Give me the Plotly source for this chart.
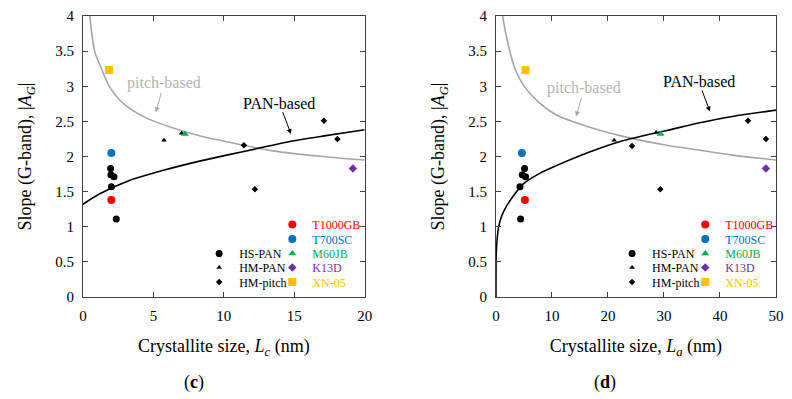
import plotly.graph_objects as go

# ---------------- data ----------------
# Panel (c): crystallite size Lc (nm)
lc_hs_pan_x = [1.96, 1.98, 2.20, 2.01, 2.36]
lc_hs_pan_y = [1.83, 1.74, 1.71, 1.57, 1.11]
lc_hm_pan_x = [5.75, 7.00]
lc_hm_pan_y = [2.23, 2.33]
lc_hm_pitch_x = [11.42, 12.20, 17.10, 18.06]
lc_hm_pitch_y = [2.16, 1.535, 2.51, 2.25]
lc_t1000gb = ([2.01], [1.38])
lc_t700sc = ([2.01], [2.05])
lc_m60jb = ([7.23], [2.32])
lc_k13d = ([19.16], [1.83])
lc_xn05 = ([1.85], [3.23])
lc_pitch_fit_x = [0.42, 0.49, 0.84, 1.31, 1.89, 2.83, 4.47, 6.34, 8.21, 10.2, 13.5, 17.0, 20.0]
lc_pitch_fit_y = [4.15, 3.98, 3.49, 3.25, 2.99, 2.76, 2.55, 2.41, 2.30, 2.21, 2.08, 2.00, 1.95]
lc_pan_fit_x = [0.0, 1.19, 3.3, 5.64, 7.98, 10.2, 12.3, 14.6, 17.0, 20.0]
lc_pan_fit_y = [1.32, 1.47, 1.66, 1.80, 1.92, 2.02, 2.11, 2.21, 2.29, 2.38]

# Panel (d): crystallite size La (nm)
la_hs_pan_x = [5.11, 4.70, 5.29, 4.29, 4.41]
la_hs_pan_y = [1.83, 1.74, 1.71, 1.57, 1.11]
la_hm_pan_x = [21.1, 28.6]
la_hm_pan_y = [2.23, 2.34]
la_hm_pitch_x = [24.3, 29.35, 45.0, 48.2]
la_hm_pitch_y = [2.15, 1.535, 2.51, 2.25]
la_t1000gb = ([5.17], [1.38])
la_t700sc = ([4.64], [2.05])
la_m60jb = ([29.4], [2.32])
la_k13d = ([48.2], [1.83])
la_xn05 = ([5.29], [3.23])
la_pitch_fit_x = [1.0, 1.23, 2.23, 3.4, 4.88, 7.82, 10.8, 16.6, 22.5, 30.5, 36.4, 42.2, 50.0]
la_pitch_fit_y = [4.13, 3.98, 3.58, 3.25, 3.02, 2.76, 2.59, 2.42, 2.29, 2.16, 2.09, 2.02, 1.95]
la_pan_fit_x = [0.0, 0.02, 0.06, 0.17, 0.46, 1.06, 1.94, 3.4, 4.88, 7.82, 10.8, 16.6, 22.5, 30.5, 36.4, 42.2, 50.0]
la_pan_fit_y = [0.0, 0.50, 0.64, 0.78, 0.99, 1.16, 1.30, 1.47, 1.61, 1.76, 1.87, 2.06, 2.22, 2.37, 2.48, 2.57, 2.66]

y_ticks = [0, 0.5, 1, 1.5, 2, 2.5, 3, 3.5, 4]

# ---------------- styling ----------------
FONT = "Liberation Serif"
AXC = "#404040"
RED, BLUE, GREEN, PURPLE, ORANGE = "#FF0000", "#0070C0", "#00B050", "#7030A0", "#FFC000"
GRAY_LINE, GRAY_TXT = "#A6A6A6", "#B4B4B4"

W, H = 792, 399
ML, MR, MT, MB = 83, 8, 14, 102
PW, PH = W - ML - MR, H - MT - MB


def px2paper_x(px):
    return (px - ML) / PW


def px2paper_y(py):
    return (H - MB - py) / PH


fig = go.Figure()

series_black = [
    ("HS-PAN", "circle", 7, "black"),
    ("HM-PAN", "triangle-up", 5, "black"),
    ("HM-pitch", "diamond", 5, "black"),
]
series_col = [
    ("T1000GB", "circle", 8, RED),
    ("T700SC", "circle", 8, BLUE),
    ("M60JB", "triangle-up", 7, GREEN),
    ("K13D", "diamond", 6.5, PURPLE),
    ("XN-05", "square", 8, ORANGE),
]

panels = [
    dict(xa="x", ya="y", left=83,
         fits=[(lc_pitch_fit_x, lc_pitch_fit_y, GRAY_LINE), (lc_pan_fit_x, lc_pan_fit_y, "black")],
         black=[(lc_hs_pan_x, lc_hs_pan_y), (lc_hm_pan_x, lc_hm_pan_y), (lc_hm_pitch_x, lc_hm_pitch_y)],
         col=[lc_t1000gb, lc_t700sc, lc_m60jb, lc_k13d, lc_xn05]),
    dict(xa="x2", ya="y2", left=500.7,
         fits=[(la_pitch_fit_x, la_pitch_fit_y, GRAY_LINE), (la_pan_fit_x, la_pan_fit_y, "black")],
         black=[(la_hs_pan_x, la_hs_pan_y), (la_hm_pan_x, la_hm_pan_y), (la_hm_pitch_x, la_hm_pitch_y)],
         col=[la_t1000gb, la_t700sc, la_m60jb, la_k13d, la_xn05]),
]

legends = {}
leg_n = 0
rows_black = [253.3, 267.3, 282.0]
rows_col = [224.0, 238.7, 253.3, 267.3, 282.0]

for p in panels:
    for fx, fy, c in p["fits"]:
        fig.add_trace(go.Scatter(x=fx, y=fy, mode="lines", xaxis=p["xa"], yaxis=p["ya"],
                                 line=dict(color=c, width=1.6, shape="spline", smoothing=0.8),
                                 showlegend=False, hoverinfo="skip"))
    groups = [(series_black, p["black"], rows_black, 117.5), (series_col, p["col"], rows_col, 191.5)]
    for sers, datas, rows, colx in groups:
        for (name, sym, size, color), (dx, dy), row in zip(sers, datas, rows):
            leg_n += 1
            key = "legend" if leg_n == 1 else f"legend{leg_n}"
            fig.add_trace(go.Scatter(
                x=dx, y=dy, mode="markers", xaxis=p["xa"], yaxis=p["ya"],
                marker=dict(symbol=sym, size=size, color=color, line=dict(width=0)),
                name=f"<span style='color:{color}'>{name}</span>",
                legend=key, showlegend=True))
            legends[key] = dict(
                x=px2paper_x(p["left"] + colx), y=px2paper_y(row),
                xanchor="left", yanchor="middle", bgcolor="rgba(0,0,0,0)",
                borderwidth=0, font=dict(family=FONT, size=12, color="black"),
                itemclick=False, itemdoubleclick=False)

axis_common = dict(showline=True, linecolor=AXC, linewidth=1, mirror="allticks",
                   ticks="inside", ticklen=5, tickwidth=1, tickcolor=AXC,
                   showgrid=False, zeroline=False,
                   tickfont=dict(family=FONT, size=15, color="black"),
                   ticklabelstandoff=5)

xt = "Crystallite size, <i>L</i><sub><i>{}</i></sub> (nm)"
yt = "Slope (G-band), |<i>A</i><sub><i>G</i></sub>|"
title_font = dict(family=FONT, size=18, color="black")

fig.update_layout(
    width=W, height=H,
    margin=dict(l=ML, r=MR, t=MT, b=MB),
    paper_bgcolor="white", plot_bgcolor="white",
    xaxis=dict(domain=[0, px2paper_x(368)], range=[0, 20], dtick=5, anchor="y",
               title=dict(text=xt.format("c"), font=title_font, standoff=16), **axis_common),
    yaxis=dict(domain=[0, 1], range=[0, 4], tickvals=y_ticks, anchor="x",
               title=dict(text=yt, font=title_font, standoff=18), **axis_common),
    xaxis2=dict(domain=[px2paper_x(500.7), 1], range=[0, 50], dtick=10, anchor="y2",
                title=dict(text=xt.format("a"), font=title_font, standoff=16), **axis_common),
    yaxis2=dict(domain=[0, 1], range=[0, 4], tickvals=y_ticks, anchor="x2",
                title=dict(text=yt, font=title_font, standoff=18), **axis_common),
    showlegend=True,
    **legends,
)

# curve labels with arrows (text centred at the arrow tail, arrow to head)
labels = [
    ("x", "y", "pitch-based", GRAY_TXT, (5.75, 3.04), (5.17, 2.63), GRAY_LINE),
    ("x", "y", "PAN-based", "black", (13.94, 2.76), (14.76, 2.32), "black"),
    ("x2", "y2", "pitch-based", GRAY_TXT, (15.76, 2.97), (14.3, 2.57), GRAY_LINE),
    ("x2", "y2", "PAN-based", "black", (36.2, 3.07), (38.2, 2.64), "black"),
]
for xr, yr, txt, tc, tpos, head, ac in labels:
    fig.add_annotation(xref=xr, yref=yr, x=head[0], y=head[1], axref=xr, ayref=yr,
                       ax=tpos[0], ay=tpos[1], text=txt, showarrow=True,
                       arrowhead=2, arrowsize=1, arrowwidth=1, arrowcolor=ac,
                       borderpad=0, font=dict(family=FONT, size=16, color=tc))

for lab, cx in [("(<b>c</b>)", 195), ("(<b>d</b>)", 611)]:
    fig.add_annotation(xref="paper", yref="paper", x=px2paper_x(cx), y=px2paper_y(383),
                       text=lab, showarrow=False, xanchor="center", yanchor="middle",
                       font=dict(family=FONT, size=18, color="black"))

fig.write_html("out.html")
